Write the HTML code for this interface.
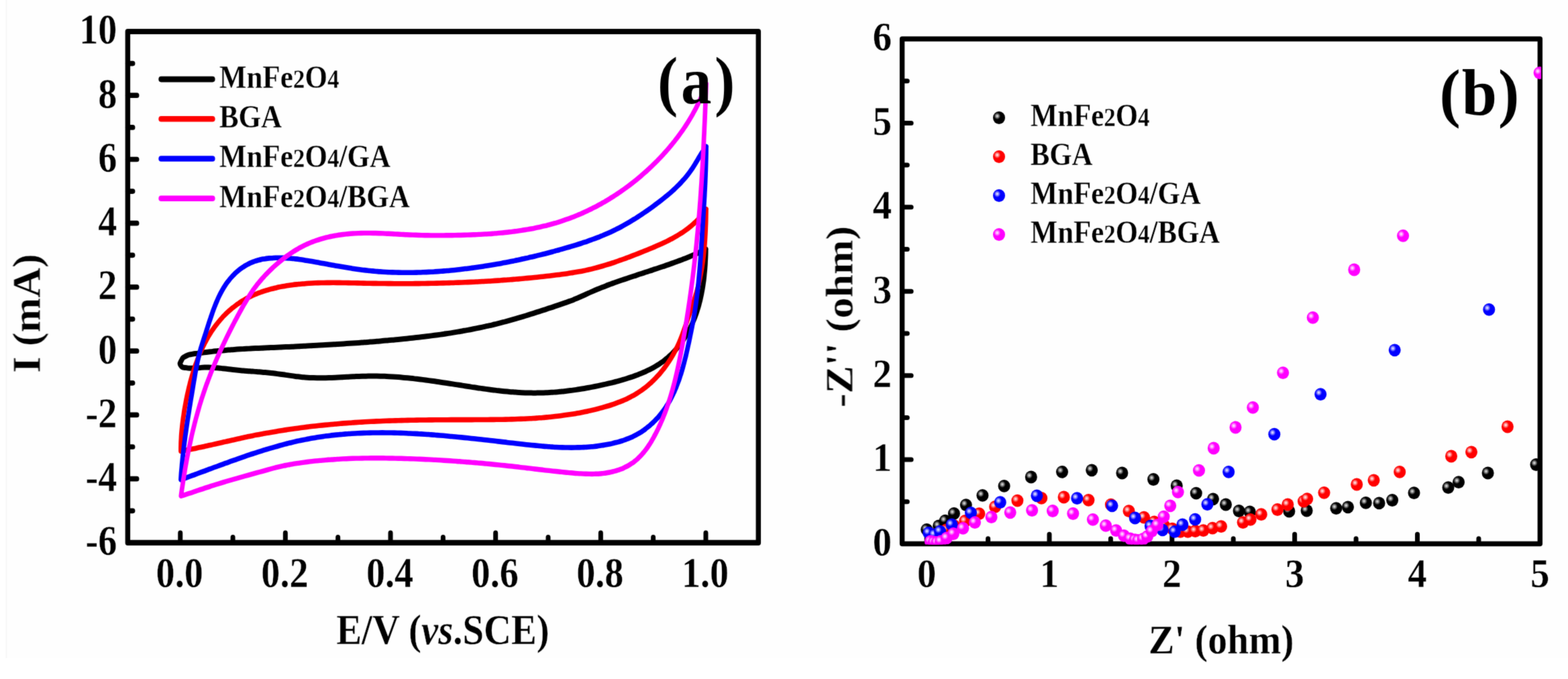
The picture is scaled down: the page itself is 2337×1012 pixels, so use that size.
<!DOCTYPE html>
<html lang="en"><head><meta charset="utf-8"><title>CV curves and Nyquist plots</title>
<style>
html,body{margin:0;padding:0;background:#fff;}
body{width:2337px;height:1012px;overflow:hidden;}
svg{display:block;}
.t{font-family:"Liberation Serif","Times New Roman",Times,serif;font-weight:bold;fill:#000;stroke:#fefefe;stroke-width:0.35px;}
.pl{stroke:none;}
.c{fill:none;stroke-linecap:round;stroke-linejoin:round;}
.ax{fill:none;stroke:#000;stroke-linejoin:round;}
.tk{stroke:#000;stroke-linecap:round;fill:none;}
</style></head>
<body>
<svg width="2337" height="1012" viewBox="0 0 2337 1012">
<defs>
<radialGradient id="gk" cx="0.35" cy="0.365" r="0.27" fx="0.35" fy="0.365"><stop offset="0" stop-color="#e8e8e8"/><stop offset="0.3" stop-color="#b0b0b0"/><stop offset="1.0" stop-color="#000000"/><stop offset="1" stop-color="#000000"/></radialGradient>
<radialGradient id="gr" cx="0.35" cy="0.365" r="0.27" fx="0.35" fy="0.365"><stop offset="0" stop-color="#fff0f0"/><stop offset="0.3" stop-color="#ffb8b8"/><stop offset="1.0" stop-color="#ff0000"/><stop offset="1" stop-color="#ff0000"/></radialGradient>
<radialGradient id="gb" cx="0.35" cy="0.365" r="0.27" fx="0.35" fy="0.365"><stop offset="0" stop-color="#f0f0ff"/><stop offset="0.3" stop-color="#b8b8ff"/><stop offset="1.0" stop-color="#0000ff"/><stop offset="1" stop-color="#0000ff"/></radialGradient>
<radialGradient id="gm" cx="0.35" cy="0.365" r="0.27" fx="0.35" fy="0.365"><stop offset="0" stop-color="#fff0ff"/><stop offset="0.3" stop-color="#ffb8ff"/><stop offset="1.0" stop-color="#ff00ff"/><stop offset="1" stop-color="#ff00ff"/></radialGradient>
<clipPath id="clipb"><rect x="1344.6" y="38" width="952.5" height="773.5"/></clipPath>
<filter id="soft" x="0" y="0" width="2337" height="1012" filterUnits="userSpaceOnUse" color-interpolation-filters="sRGB"><feConvolveMatrix order="3" kernelMatrix="0.02 0.1 0.02 0.1 0.52 0.1 0.02 0.1 0.02" edgeMode="duplicate" preserveAlpha="false"/></filter>
</defs>
<rect x="0" y="0" width="2337" height="1012" fill="#ffffff"/>
<rect x="9" y="0" width="2328" height="981" fill="#fefefe"/>
<rect x="8.5" y="0" width="2" height="981" fill="#f7f7f7"/>
<g filter="url(#soft)">
<g id="panel-a">
<g transform="scale(0.91 1)">
<rect class="ax" x="209.2" y="47" width="1032.9" height="761.9" stroke-width="8.2"/>
<path class="tk" stroke-width="7.7" d="M295.3 808.9V794.4M381.4 808.9V800.9M467.4 808.9V794.4M553.5 808.9V800.9M639.6 808.9V794.4M725.7 808.9V800.9M811.7 808.9V794.4M897.8 808.9V800.9M983.9 808.9V794.4M1069.9 808.9V800.9M1156 808.9V794.4M209.2 761.3H217.5M209.2 713.7H224.1M209.2 666H217.5M209.2 618.4H224.1M209.2 570.8H217.5M209.2 523.2H224.1M209.2 475.6H217.5M209.2 427.9H224.1M209.2 380.3H217.5M209.2 332.7H224.1M209.2 285.1H217.5M209.2 237.5H224.1M209.2 189.9H217.5M209.2 142.2H224.1M209.2 94.6H217.5"/>
<path class="c" stroke="#000000" stroke-width="8.0" d="M1156 371.4C1155.9 374.4 1156 374.4 1155.8 380.4C1155.5 386.4 1155.7 383.4 1155.3 389.5C1155 395.5 1155.2 392.5 1154.7 398.5C1154.2 404.6 1154.5 401.5 1153.8 407.6C1153.2 413.6 1153.6 410.6 1152.8 416.6C1151.9 422.6 1152.4 419.6 1151.4 425.6C1150.4 431.6 1150.9 428.6 1149.7 434.5C1148.5 440.5 1149.2 437.5 1147.7 443.4C1146.3 449.3 1147.1 446.4 1145.4 452.2C1143.7 458 1144.6 455.1 1142.6 460.9C1140.7 466.7 1141.7 463.8 1139.5 469.5C1137.2 475.2 1138.4 472.3 1135.9 477.9C1133.3 483.5 1134.7 480.8 1131.8 486.2C1128.9 491.7 1130.4 489 1127.2 494.3C1124 499.6 1125.7 497 1122.2 502.2C1118.7 507.3 1120.5 504.8 1116.7 509.7C1112.8 514.7 1114.8 512.3 1110.6 516.9C1106.5 521.6 1108.6 519.4 1104.1 523.8C1099.6 528.2 1102 526 1097.1 530.1C1092.3 534.2 1094.8 532.3 1089.6 536C1084.4 539.8 1087.1 538 1081.6 541.4C1076.1 544.8 1078.9 543.1 1073.2 546.2C1067.4 549.3 1070.3 547.8 1064.4 550.6C1058.4 553.3 1061.4 552 1055.3 554.5C1049.2 557 1052.2 555.8 1046 558C1039.8 560.2 1042.9 559.2 1036.6 561.2C1030.3 563.2 1033.5 562.2 1027.2 564C1020.9 565.9 1024 565 1017.7 566.6C1011.3 568.3 1014.5 567.5 1008.1 569C1001.8 570.5 1005 569.8 998.5 571.2C992.1 572.6 995.3 571.9 988.9 573.2C982.4 574.5 985.7 573.8 979.2 575.1C972.7 576.3 975.9 575.7 969.4 576.9C962.9 578 966.1 577.4 959.6 578.5C953 579.5 956.3 579.1 949.7 580C943.1 581 946.4 580.5 939.8 581.4C933.2 582.2 936.5 581.8 929.9 582.5C923.3 583.3 926.6 582.9 920 583.5C913.3 584.2 916.6 583.9 910 584.4C903.4 584.9 906.7 584.7 900 585C893.4 585.4 896.7 585.2 890.1 585.4C883.5 585.6 886.8 585.6 880.1 585.6C873.5 585.7 876.8 585.7 870.2 585.6C863.6 585.5 866.9 585.6 860.3 585.4C853.7 585.2 857 585.3 850.4 585C843.7 584.6 847 584.8 840.4 584.3C833.8 583.9 837.1 584.1 830.5 583.6C824 583 827.3 583.3 820.7 582.7C814.1 582 817.4 582.4 810.8 581.6C804.2 580.9 807.5 581.3 800.9 580.5C794.3 579.7 797.6 580.1 791 579.3C784.5 578.4 787.7 578.9 781.2 578C774.6 577.1 777.9 577.5 771.3 576.6C764.7 575.7 768 576.2 761.4 575.2C754.9 574.3 758.2 574.8 751.6 573.8C745 572.9 748.3 573.3 741.7 572.4C735.2 571.5 738.4 571.9 731.9 571C725.3 570.1 728.6 570.5 722 569.7C715.4 568.8 718.7 569.2 712.1 568.3C705.6 567.5 708.9 567.9 702.3 567.1C695.7 566.3 699 566.7 692.4 565.9C685.8 565.1 689.1 565.5 682.5 564.8C675.9 564.1 679.2 564.4 672.6 563.8C666.1 563.2 669.3 563.5 662.8 562.9C656.2 562.4 659.5 562.6 652.9 562.1C646.3 561.7 649.6 561.9 642.9 561.5C636.3 561.1 639.6 561.3 633 561C626.4 560.7 629.7 560.8 623.1 560.7C616.5 560.5 619.8 560.6 613.2 560.5C606.5 560.5 609.9 560.5 603.2 560.6C596.6 560.7 599.9 560.6 593.3 560.8C586.6 561 589.9 560.9 583.3 561.1C576.6 561.4 580 561.3 573.3 561.6C566.7 561.9 570 561.8 563.3 562.1C556.7 562.4 560 562.2 553.4 562.5C546.7 562.8 550 562.7 543.4 562.9C536.7 563.1 540.1 563.1 533.4 563.2C526.8 563.3 530.1 563.3 523.5 563.2C516.8 563.2 520.2 563.3 513.5 563.1C506.9 562.9 510.2 563.1 503.6 562.7C497 562.3 500.3 562.5 493.7 561.9C487.1 561.3 490.4 561.6 483.8 560.9C477.2 560.1 480.5 560.5 473.9 559.6C467.3 558.8 470.6 559.2 464 558.3C457.4 557.5 460.7 557.9 454.1 557.1C447.5 556.3 450.8 556.6 444.2 555.9C437.6 555.3 440.9 555.6 434.3 555C427.7 554.5 431 554.8 424.4 554.3C417.8 553.8 421.1 554 414.4 553.6C407.8 553.1 411.1 553.4 404.5 552.9C397.9 552.5 401.2 552.7 394.6 552.2C388 551.6 391.3 551.9 384.7 551.3C378.1 550.6 381.4 550.9 374.9 550.2C368.3 549.5 371.6 549.8 365 549.2C358.4 548.5 361.7 548.8 355.1 548.3C348.5 547.8 351.8 547.9 345.1 547.7C338.5 547.5 341.8 547.5 335.1 547.6C328.4 547.8 331.7 547.8 325 548.2C318.2 548.5 321.5 548.7 314.9 548.7C308.2 548.7 311.2 549.4 305.1 548.2C298.9 547.1 299.1 548.9 296.5 545.2C293.8 541.5 294.3 542 297.2 537.1C300 532.1 299.3 533.5 305.1 530.4C310.9 527.3 308.1 529.1 314.5 527.9C320.9 526.6 317.7 527.4 324.2 526.6C330.8 525.8 327.5 526.2 334.1 525.4C340.7 524.6 337.4 525 344 524.3C350.6 523.6 347.3 523.9 353.9 523.3C360.5 522.6 357.2 522.9 363.8 522.4C370.4 521.8 367.1 522.1 373.8 521.6C380.4 521.1 377.1 521.4 383.7 520.9C390.3 520.5 387 520.7 393.6 520.3C400.3 520 397 520.2 403.6 519.8C410.2 519.5 406.9 519.7 413.6 519.3C420.2 519 416.9 519.2 423.5 518.9C430.1 518.6 426.8 518.8 433.5 518.5C440.1 518.2 436.8 518.4 443.4 518.1C450.1 517.8 446.7 518 453.4 517.7C460 517.4 456.7 517.6 463.3 517.3C470 517 466.6 517.2 473.3 516.9C479.9 516.6 476.6 516.7 483.2 516.4C489.8 516.1 486.5 516.3 493.2 516C499.8 515.7 496.5 515.8 503.1 515.5C509.7 515.2 506.4 515.4 513 515.1C519.7 514.7 516.3 514.9 523 514.6C529.6 514.2 526.3 514.4 532.9 514.1C539.5 513.7 536.2 513.9 542.8 513.5C549.5 513.2 546.1 513.4 552.8 513C559.4 512.6 556.1 512.8 562.7 512.4C569.3 512 566 512.2 572.6 511.8C579.2 511.4 575.9 511.6 582.6 511.2C589.2 510.8 585.9 511 592.5 510.6C599.1 510.1 595.8 510.3 602.4 509.9C609 509.4 605.7 509.6 612.3 509.2C619 508.7 615.6 508.9 622.3 508.4C628.9 507.9 625.6 508.2 632.2 507.6C638.8 507.1 635.5 507.4 642.1 506.8C648.7 506.3 645.4 506.6 652 506C658.6 505.4 655.3 505.7 662 505.1C668.6 504.5 665.3 504.8 671.9 504.1C678.5 503.5 675.2 503.8 681.8 503.1C688.4 502.5 685.1 502.8 691.7 502.1C698.3 501.4 695 501.7 701.6 501C708.2 500.2 704.9 500.6 711.5 499.8C718.1 499 714.8 499.4 721.4 498.6C727.9 497.7 724.6 498.2 731.2 497.3C737.8 496.4 734.5 496.8 741.1 495.9C747.6 494.9 744.3 495.4 750.9 494.4C757.4 493.4 754.2 493.9 760.7 492.8C767.2 491.8 764 492.3 770.5 491.2C777 490 773.7 490.6 780.2 489.4C786.7 488.2 783.5 488.8 790 487.6C796.5 486.3 793.2 487 799.7 485.6C806.2 484.3 802.9 485 809.4 483.5C815.8 482.1 812.6 482.9 819 481.4C825.5 479.9 822.3 480.6 828.7 479.1C835.1 477.5 831.9 478.3 838.3 476.7C844.6 475 841.4 475.9 847.8 474.2C854.2 472.5 851 473.3 857.4 471.6C863.7 469.9 860.5 470.7 866.9 468.9C873.2 467.1 870.1 468.1 876.4 466.2C882.7 464.4 879.5 465.3 885.9 463.4C892.2 461.6 889 462.5 895.3 460.6C901.6 458.7 898.5 459.7 904.8 457.8C911.1 455.8 907.9 456.8 914.2 454.9C920.5 452.9 917.4 453.9 923.7 451.9C929.9 449.9 926.8 451 933 448.9C939.2 446.8 936.1 447.9 942.3 445.6C948.4 443.3 945.4 444.5 951.4 442C957.5 439.6 954.4 440.8 960.5 438.3C966.5 435.8 963.5 437 969.6 434.6C975.6 432.2 972.6 433.4 978.7 431C984.8 428.7 981.8 429.9 987.9 427.7C994.1 425.5 991 426.5 997.2 424.4C1003.4 422.3 1000.3 423.3 1006.6 421.3C1012.8 419.3 1009.7 420.3 1015.9 418.3C1022.2 416.3 1019.1 417.3 1025.4 415.4C1031.7 413.4 1028.5 414.4 1034.8 412.5C1041.1 410.6 1038 411.5 1044.3 409.7C1050.6 407.8 1047.4 408.7 1053.8 406.8C1060.1 405 1056.9 405.9 1063.2 404C1069.6 402.2 1066.4 403.1 1072.7 401.2C1079 399.3 1075.9 400.3 1082.2 398.3C1088.5 396.4 1085.3 397.4 1091.6 395.4C1097.9 393.4 1094.8 394.5 1101 392.4C1107.2 390.4 1104.1 391.4 1110.3 389.3C1116.6 387.2 1113.5 388.3 1119.6 386.1C1125.8 383.8 1122.7 385 1128.9 382.7C1135 380.3 1131.9 381.5 1138 379.1C1144.1 376.7 1141.1 377.9 1147.1 375.4C1153.1 372.8 1153.1 372.7 1156 371.4"/>
<path class="c" stroke="#ff0000" stroke-width="7.6" d="M1156.5 311.7C1156.4 314.7 1156.5 314.7 1156.3 320.8C1156.2 326.9 1156.3 323.8 1156.1 329.9C1155.9 336 1156 332.9 1155.7 339C1155.5 345.1 1155.6 342.1 1155.3 348.1C1154.9 354.2 1155.1 351.2 1154.7 357.3C1154.3 363.4 1154.5 360.3 1154 366.4C1153.4 372.5 1153.7 369.4 1153 375.5C1152.4 381.5 1152.7 378.5 1151.9 384.6C1151.1 390.6 1151.6 387.6 1150.6 393.6C1149.6 399.6 1150.2 396.6 1149 402.6C1147.9 408.6 1148.5 405.6 1147.2 411.5C1145.9 417.5 1146.6 414.5 1145.1 420.4C1143.6 426.3 1144.4 423.4 1142.7 429.3C1141 435.1 1141.9 432.2 1140 438C1138.1 443.9 1139.1 441 1137.1 446.7C1135.1 452.5 1136.1 449.6 1134 455.4C1131.9 461.2 1133 458.3 1130.8 464.1C1128.7 469.8 1129.7 466.9 1127.5 472.7C1125.4 478.4 1126.5 475.6 1124.3 481.3C1122.1 487 1123.2 484.2 1121 489.9C1118.8 495.6 1120 492.8 1117.6 498.4C1115.3 504.1 1116.5 501.3 1114 506.9C1111.4 512.5 1112.8 509.7 1110 515.3C1107.1 520.8 1108.6 518 1105.5 523.4C1102.4 528.8 1104 526.2 1100.6 531.4C1097.2 536.7 1098.9 534.1 1095.2 539.2C1091.5 544.3 1093.4 541.8 1089.5 546.7C1085.5 551.6 1087.5 549.2 1083.3 553.9C1079 558.6 1081.2 556.3 1076.7 560.8C1072.2 565.2 1074.5 563.1 1069.7 567.3C1064.9 571.5 1067.4 569.5 1062.3 573.4C1057.3 577.4 1059.9 575.5 1054.6 579.1C1049.3 582.8 1052 581 1046.5 584.3C1040.9 587.7 1043.8 586.1 1038 589.1C1032.2 592.1 1035.2 590.6 1029.2 593.3C1023.2 596 1026.2 594.7 1020.1 597.1C1013.9 599.5 1017 598.3 1010.7 600.4C1004.5 602.6 1007.6 601.5 1001.2 603.5C994.9 605.4 998.1 604.4 991.6 606.2C985.2 607.9 988.4 607.1 981.9 608.6C975.4 610.2 978.7 609.5 972.2 610.9C965.6 612.3 968.9 611.6 962.3 612.9C955.8 614.2 959.1 613.6 952.5 614.7C945.9 615.9 949.2 615.3 942.6 616.4C936 617.4 939.3 616.9 932.7 617.8C926.1 618.7 929.4 618.3 922.8 619.1C916.2 619.9 919.5 619.5 912.9 620.3C906.3 621 909.6 620.6 902.9 621.2C896.3 621.9 899.6 621.6 893 622.1C886.3 622.6 889.7 622.4 883 622.8C876.4 623.3 879.7 623.1 873 623.5C866.4 623.8 869.7 623.7 863 624C856.4 624.3 859.7 624.1 853.1 624.4C846.4 624.6 849.7 624.5 843 624.7C836.4 624.9 839.7 624.8 833 625C826.4 625.1 829.7 625.1 823 625.2C816.3 625.3 819.7 625.2 813 625.3C806.3 625.4 809.7 625.4 803 625.4C796.3 625.5 799.6 625.5 793 625.5C786.3 625.5 789.6 625.5 782.9 625.5C776.2 625.6 779.6 625.5 772.9 625.6C766.2 625.6 769.6 625.6 762.9 625.6C756.2 625.6 759.5 625.6 752.8 625.6C746.2 625.6 749.5 625.6 742.8 625.6C736.1 625.7 739.5 625.7 732.8 625.7C726.1 625.7 729.4 625.7 722.8 625.7C716.1 625.8 719.4 625.8 712.7 625.8C706.1 625.9 709.4 625.8 702.7 625.9C696 626 699.4 625.9 692.7 626C686 626.1 689.3 626 682.7 626.1C676 626.2 679.3 626.2 672.7 626.3C666 626.4 669.3 626.4 662.6 626.5C656 626.6 659.3 626.6 652.6 626.7C645.9 626.9 649.3 626.8 642.6 627C635.9 627.2 639.3 627.1 632.6 627.3C625.9 627.5 629.3 627.4 622.6 627.7C615.9 627.9 619.2 627.8 612.6 628.1C605.9 628.4 609.2 628.2 602.6 628.5C595.9 628.9 599.2 628.7 592.6 629.1C585.9 629.4 589.2 629.2 582.6 629.6C575.9 630 579.2 629.8 572.6 630.3C565.9 630.7 569.2 630.5 562.6 630.9C555.9 631.4 559.2 631.2 552.6 631.7C545.9 632.2 549.3 631.9 542.6 632.5C535.9 633.1 539.3 632.8 532.6 633.4C526 634 529.3 633.7 522.7 634.3C516 635 519.3 634.7 512.7 635.3C506.1 636 509.4 635.7 502.7 636.4C496.1 637.2 499.4 636.8 492.8 637.6C486.2 638.4 489.5 638 482.9 638.8C476.3 639.6 479.6 639.2 473 640.1C466.3 641 469.6 640.5 463 641.5C456.4 642.4 459.7 641.9 453.1 642.9C446.6 643.9 449.9 643.4 443.3 644.4C436.7 645.5 440 644.9 433.4 646C426.8 647.1 430.1 646.5 423.6 647.7C417 648.8 420.3 648.2 413.7 649.4C407.2 650.6 410.4 650 403.9 651.3C397.4 652.5 400.6 651.9 394.1 653.2C387.6 654.5 390.8 653.8 384.3 655.2C377.8 656.5 381.1 655.8 374.5 657.2C368 658.5 371.3 657.8 364.8 659.2C358.3 660.5 361.5 659.9 355 661.2C348.5 662.6 351.7 661.9 345.2 663.2C338.7 664.6 342 663.9 335.4 665.2C328.9 666.5 332.2 665.9 325.6 667.1C319.1 668.4 322.4 667.8 315.8 669C309.3 670.2 312.6 669.6 306 670.7C299.4 671.9 299.4 671.8 296.2 672.4C296.2 669.4 296.1 669.4 296.3 663.3C296.4 657.3 296.3 660.3 296.7 654.2C297 648.2 296.8 651.2 297.3 645.1C297.9 639.1 297.6 642.1 298.3 636.1C299 630 298.6 633.1 299.5 627C300.3 621 299.9 624 300.9 618C301.8 612 301.3 615 302.4 609C303.6 603 303 606 304.2 600C305.4 594.1 304.8 597 306.1 591.1C307.5 585.2 306.8 588.1 308.3 582.2C309.7 576.3 309 579.2 310.6 573.4C312.2 567.5 311.3 570.4 313.1 564.6C314.9 558.8 313.9 561.7 315.9 555.9C317.8 550.1 316.8 553 318.9 547.2C321.1 541.5 319.9 544.4 322.3 538.7C324.6 533 323.4 535.8 325.9 530.2C328.5 524.6 327.1 527.4 329.9 521.9C332.7 516.3 331.2 519.1 334.2 513.6C337.2 508.2 335.6 510.9 338.9 505.6C342.1 500.2 340.4 502.9 343.9 497.7C347.4 492.5 345.6 495 349.4 490.1C353.2 485.1 351.2 487.5 355.4 482.7C359.5 477.9 357.3 480.3 361.8 475.7C366.2 471.1 363.9 473.3 368.6 469C373.4 464.7 370.9 466.8 375.9 462.8C381 458.8 378.4 460.7 383.7 457C388.9 453.3 386.2 455 391.7 451.7C397.2 448.3 394.4 449.9 400.2 446.8C405.9 443.8 403 445.2 408.9 442.6C414.8 439.9 411.8 441.1 417.9 438.8C424 436.4 420.9 437.5 427.2 435.5C433.4 433.4 430.3 434.4 436.7 432.6C443 430.9 439.8 431.7 446.3 430.2C452.8 428.7 449.5 429.4 456.1 428.1C462.7 426.9 459.4 427.5 466 426.4C472.6 425.4 469.3 425.9 475.9 425C482.6 424.2 479.3 424.5 485.9 423.9C492.6 423.2 489.2 423.5 495.9 423C502.6 422.5 499.2 422.7 505.9 422.3C512.6 421.9 509.2 422.1 515.9 421.8C522.5 421.6 519.2 421.7 525.9 421.5C532.5 421.4 529.2 421.4 535.9 421.4C542.5 421.3 539.2 421.3 545.9 421.3C552.5 421.3 549.2 421.3 555.9 421.4C562.5 421.5 559.2 421.4 565.9 421.5C572.5 421.6 569.2 421.6 575.8 421.7C582.5 421.8 579.2 421.8 585.8 421.9C592.5 422 589.2 422 595.8 422.1C602.5 422.2 599.2 422.2 605.8 422.3C612.5 422.4 609.2 422.3 615.8 422.4C622.5 422.5 619.2 422.5 625.8 422.5C632.5 422.6 629.2 422.6 635.8 422.6C642.5 422.7 639.2 422.7 645.8 422.7C652.5 422.7 649.2 422.7 655.8 422.7C662.5 422.7 659.2 422.7 665.8 422.7C672.5 422.7 669.2 422.7 675.8 422.7C682.5 422.6 679.2 422.6 685.8 422.6C692.5 422.5 689.2 422.6 695.8 422.5C702.5 422.4 699.2 422.4 705.8 422.3C712.5 422.2 709.2 422.3 715.8 422.1C722.5 422 719.2 422.1 725.8 421.9C732.5 421.7 729.2 421.8 735.8 421.6C742.5 421.5 739.2 421.6 745.8 421.3C752.5 421.1 749.2 421.2 755.8 421C762.5 420.8 759.2 420.9 765.8 420.6C772.5 420.4 769.1 420.5 775.8 420.2C782.5 419.9 779.1 420.1 785.8 419.7C792.5 419.4 789.1 419.6 795.8 419.2C802.4 418.9 799.1 419 805.8 418.7C812.4 418.3 809.1 418.5 815.8 418.1C822.4 417.6 819.1 417.9 825.7 417.4C832.4 417 829.1 417.2 835.7 416.7C842.4 416.2 839.1 416.5 845.7 416C852.4 415.5 849 415.7 855.7 415.2C862.3 414.7 859 414.9 865.7 414.4C872.3 413.8 869 414.1 875.6 413.5C882.3 412.9 878.9 413.2 885.6 412.5C892.2 411.9 888.9 412.2 895.6 411.5C902.2 410.9 898.9 411.2 905.5 410.5C912.2 409.8 908.8 410.2 915.5 409.4C922.1 408.6 918.8 409 925.4 408.2C932 407.3 928.7 407.8 935.3 406.8C941.9 405.9 938.6 406.4 945.2 405.3C951.7 404.3 948.4 404.8 955 403.7C961.5 402.5 958.2 403.1 964.7 401.8C971.2 400.4 967.9 401.1 974.4 399.6C980.8 398.2 977.6 398.9 983.9 397.3C990.3 395.6 987.1 396.5 993.5 394.7C999.8 392.9 996.6 393.9 1002.9 392C1009.3 390.1 1006.1 391 1012.4 389C1018.7 387 1015.5 388.1 1021.8 386C1028.1 383.9 1024.9 384.9 1031.2 382.8C1037.4 380.6 1034.3 381.7 1040.6 379.5C1046.8 377.3 1043.7 378.4 1050 376.2C1056.2 373.9 1053.1 375 1059.4 372.7C1065.6 370.4 1062.5 371.6 1068.7 369.2C1075 366.8 1071.9 368.1 1078 365.6C1084.2 363.1 1081.2 364.4 1087.2 361.8C1093.3 359.2 1090.3 360.5 1096.3 357.7C1102.2 355 1099.3 356.4 1105.1 353.4C1110.8 350.4 1108 352 1113.6 348.8C1119.2 345.6 1116.5 347.3 1121.8 343.8C1127.2 340.3 1124.6 342.2 1129.7 338.4C1134.8 334.6 1132.3 336.6 1137.1 332.5C1141.9 328.4 1139.6 330.6 1144.1 326.2C1148.6 321.7 1146.5 324 1150.6 319.2C1154.7 314.4 1154.5 314.2 1156.5 311.7"/>
<path class="c" stroke="#0000ff" stroke-width="7.6" d="M1156.6 218.6C1156.6 221.6 1156.6 221.7 1156.5 227.7C1156.4 233.8 1156.4 230.8 1156.3 236.9C1156.1 243 1156.2 239.9 1156 246C1155.8 252.1 1155.9 249 1155.7 255.1C1155.4 261.2 1155.6 258.2 1155.3 264.2C1155 270.3 1155.2 267.3 1154.9 273.3C1154.6 279.4 1154.7 276.4 1154.4 282.5C1154 288.5 1154.2 285.5 1153.9 291.6C1153.5 297.6 1153.7 294.6 1153.3 300.7C1152.9 306.7 1153.1 303.7 1152.7 309.8C1152.3 315.8 1152.5 312.8 1152.1 318.9C1151.7 324.9 1151.9 321.9 1151.5 328C1151.1 334.1 1151.3 331 1150.9 337.1C1150.4 343.2 1150.6 340.1 1150.2 346.2C1149.8 352.3 1150 349.3 1149.6 355.4C1149.2 361.5 1149.4 358.4 1148.9 364.5C1148.5 370.6 1148.7 367.6 1148.3 373.6C1147.8 379.7 1148 376.7 1147.6 382.8C1147.1 388.9 1147.3 385.8 1146.8 391.9C1146.3 398 1146.6 395 1146 401C1145.4 407.1 1145.7 404.1 1145.1 410.1C1144.5 416.2 1144.8 413.2 1144.2 419.2C1143.5 425.3 1143.9 422.3 1143.1 428.3C1142.4 434.3 1142.8 431.3 1142 437.3C1141.2 443.4 1141.6 440.4 1140.7 446.4C1139.9 452.3 1140.3 449.4 1139.4 455.3C1138.4 461.3 1138.9 458.3 1137.9 464.3C1136.8 470.2 1137.4 467.3 1136.2 473.2C1135.1 479.1 1135.7 476.2 1134.5 482.1C1133.3 488 1133.9 485.1 1132.6 491C1131.3 496.9 1132 494 1130.6 499.9C1129.3 505.9 1130 502.9 1128.6 508.9C1127.2 514.8 1127.9 511.8 1126.4 517.8C1125 523.8 1125.7 520.8 1124.2 526.8C1122.7 532.8 1123.5 529.9 1121.8 535.8C1120.2 541.8 1121 538.8 1119.2 544.8C1117.5 550.7 1118.4 547.8 1116.5 553.7C1114.5 559.6 1115.5 556.7 1113.4 562.5C1111.3 568.3 1112.4 565.4 1110 571.1C1107.7 576.8 1108.9 574 1106.3 579.6C1103.7 585.2 1105.1 582.4 1102.2 587.9C1099.3 593.3 1100.8 590.7 1097.7 596C1094.5 601.2 1096.2 598.7 1092.6 603.8C1089.1 608.9 1091 606.4 1087.1 611.3C1083.2 616.2 1085.3 613.8 1081 618.5C1076.8 623.1 1079 620.9 1074.4 625.3C1069.8 629.7 1072.2 627.6 1067.3 631.7C1062.3 635.7 1064.9 633.8 1059.6 637.5C1054.4 641.3 1057.1 639.5 1051.6 642.9C1046 646.2 1048.9 644.7 1043 647.6C1037.2 650.5 1040.2 649.2 1034.1 651.7C1028 654.2 1031.1 653 1024.8 655.1C1018.6 657.2 1021.7 656.2 1015.3 658C1008.9 659.7 1012.1 658.9 1005.6 660.3C999 661.8 1002.3 661.1 995.7 662.3C989.1 663.4 992.4 662.9 985.8 663.8C979.2 664.8 982.5 664.4 975.9 665.1C969.2 665.8 972.5 665.5 965.9 666C959.2 666.5 962.6 666.3 955.9 666.6C949.3 666.9 952.6 666.8 945.9 666.9C939.3 667.1 942.6 667.1 935.9 667.1C929.2 667.1 932.6 667.1 925.9 667C919.2 666.8 922.6 666.9 915.9 666.7C909.2 666.4 912.5 666.5 905.9 666.2C899.2 665.8 902.5 666 895.8 665.5C889.1 665.1 892.5 665.3 885.8 664.8C879.1 664.3 882.4 664.5 875.7 663.9C869.1 663.3 872.4 663.6 865.7 663C859 662.4 862.4 662.7 855.7 662C849 661.3 852.4 661.7 845.7 661C839 660.3 842.3 660.6 835.7 660C829 659.3 832.3 659.6 825.7 658.9C819 658.2 822.3 658.6 815.7 657.9C809 657.2 812.4 657.5 805.7 656.8C799.1 656.1 802.4 656.5 795.7 655.8C789.1 655.1 792.4 655.5 785.8 654.8C779.1 654.1 782.4 654.5 775.8 653.8C769.2 653.2 772.5 653.5 765.8 652.8C759.2 652.2 762.5 652.5 755.9 651.9C749.2 651.3 752.6 651.6 745.9 651C739.3 650.4 742.6 650.7 736 650.2C729.3 649.6 732.6 649.9 726 649.3C719.3 648.8 722.7 649.1 716 648.6C709.4 648.1 712.7 648.3 706.1 647.9C699.4 647.4 702.7 647.6 696.1 647.2C689.4 646.8 692.7 647 686.1 646.7C679.4 646.3 682.8 646.5 676.1 646.2C669.4 645.9 672.8 646 666.1 645.7C659.4 645.5 662.8 645.6 656.1 645.4C649.4 645.2 652.7 645.3 646.1 645.1C639.4 645 642.7 645.1 636 645C629.3 644.9 632.7 644.9 626 644.9C619.3 644.9 622.6 644.9 615.9 645C609.2 645 612.6 645 605.9 645.1C599.2 645.2 602.5 645.2 595.8 645.4C589.1 645.6 592.5 645.5 585.8 645.8C579.1 646.1 582.4 645.9 575.7 646.3C569.1 646.7 572.4 646.4 565.7 646.9C559 647.4 562.4 647.1 555.7 647.7C549 648.3 552.4 648 545.7 648.6C539.1 649.3 542.4 649 535.8 649.7C529.1 650.5 532.4 650.1 525.8 651C519.2 651.9 522.5 651.4 515.9 652.4C509.3 653.4 512.6 652.8 506 654C499.5 655.1 502.7 654.5 496.2 655.7C489.7 656.9 492.9 656.3 486.4 657.6C479.9 659 483.1 658.3 476.7 659.7C470.2 661.1 473.4 660.4 466.9 661.9C460.5 663.5 463.7 662.7 457.3 664.3C450.8 665.9 454 665.1 447.6 666.8C441.2 668.5 444.4 667.6 438 669.4C431.6 671.1 434.8 670.2 428.4 672.1C422 673.9 425.2 673 418.9 674.8C412.5 676.7 415.7 675.8 409.3 677.7C403 679.6 406.2 678.6 399.9 680.6C393.5 682.6 396.7 681.6 390.4 683.6C384.1 685.6 387.2 684.6 380.9 686.7C374.6 688.7 377.8 687.7 371.5 689.8C365.2 691.8 368.3 690.8 362 692.9C355.8 695 358.9 693.9 352.6 696C346.4 698.1 349.5 697.1 343.2 699.2C336.9 701.3 340.1 700.2 333.8 702.4C327.5 704.5 330.7 703.4 324.4 705.5C318.1 707.6 321.3 706.6 315 708.7C308.7 710.8 311.9 709.7 305.6 711.8C299.3 713.9 299.3 713.9 296.2 714.9C296.4 711.9 296.3 711.9 296.8 705.8C297.3 699.8 297.1 702.8 297.7 696.7C298.2 690.7 297.9 693.7 298.6 687.7C299.2 681.6 298.9 684.7 299.6 678.6C300.3 672.6 300 675.6 300.7 669.6C301.5 663.6 301.1 666.6 301.9 660.6C302.8 654.6 302.4 657.6 303.2 651.6C304.1 645.6 303.7 648.6 304.6 642.6C305.5 636.6 305.1 639.6 306 633.6C307 627.6 306.5 630.6 307.5 624.6C308.5 618.6 308 621.6 309.1 615.6C310.1 609.6 309.6 612.6 310.6 606.6C311.7 600.6 311.2 603.6 312.2 597.6C313.3 591.6 312.8 594.6 313.9 588.6C314.9 582.7 314.4 585.7 315.5 579.7C316.6 573.7 316 576.7 317.1 570.7C318.2 564.7 317.7 567.7 318.8 561.7C319.9 555.7 319.3 558.7 320.5 552.7C321.8 546.8 321.1 549.7 322.4 543.8C323.8 537.9 323 540.8 324.5 534.9C326 529 325.2 532 326.9 526.1C328.5 520.3 327.7 523.2 329.5 517.4C331.4 511.6 330.5 514.5 332.5 508.7C334.5 502.9 333.5 505.8 335.6 500.1C337.6 494.3 336.6 497.2 338.7 491.4C340.7 485.6 339.7 488.5 341.7 482.7C343.8 476.9 342.7 479.8 344.9 474.1C347 468.3 345.9 471.2 348.1 465.5C350.4 459.8 349.2 462.6 351.6 456.9C354 451.3 352.7 454.1 355.4 448.5C358 443 356.6 445.7 359.5 440.3C362.5 434.9 360.9 437.5 364.2 432.2C367.5 427 365.7 429.5 369.4 424.5C373.2 419.5 371.2 421.9 375.4 417.2C379.6 412.4 377.4 414.7 382.1 410.3C386.7 405.9 384.3 408 389.4 404.1C394.5 400.2 391.9 401.9 397.4 398.6C402.9 395.2 400 396.7 405.9 393.9C411.8 391.1 408.8 392.3 414.9 390.2C421.1 388.1 418 389 424.4 387.5C430.9 386 427.6 386.6 434.2 385.7C440.8 384.7 437.6 385.1 444.2 384.7C450.9 384.2 447.6 384.3 454.3 384.3C461 384.2 457.7 384.2 464.3 384.4C471 384.6 467.6 384.5 474.2 385C480.9 385.5 477.6 385.2 484.1 385.9C490.7 386.6 487.4 386.3 494 387.1C500.6 388 497.3 387.6 503.8 388.6C510.4 389.5 507.1 389 513.7 390.1C520.2 391.1 517 390.6 523.5 391.7C530.1 392.8 526.8 392.2 533.4 393.3C540 394.4 536.7 393.9 543.2 395C549.8 396 546.5 395.5 553.1 396.6C559.7 397.6 556.4 397.1 563 398.1C569.6 399.1 566.3 398.6 572.9 399.6C579.5 400.5 576.2 400.1 582.8 400.9C589.4 401.8 586.1 401.4 592.7 402.2C599.4 402.9 596.1 402.6 602.7 403.2C609.3 403.9 606 403.6 612.6 404.1C619.3 404.7 615.9 404.4 622.6 404.9C629.2 405.3 625.9 405.1 632.5 405.5C639.2 405.8 635.8 405.6 642.5 405.9C649.1 406.1 645.8 406 652.5 406.1C659.1 406.3 655.8 406.2 662.4 406.3C669.1 406.3 665.7 406.3 672.4 406.3C679 406.2 675.7 406.3 682.4 406.1C689 406 685.7 406.1 692.3 405.8C699 405.6 695.7 405.7 702.3 405.4C709 405.1 705.6 405.3 712.3 404.9C718.9 404.5 715.6 404.7 722.2 404.3C728.9 403.8 725.6 404 732.2 403.5C738.8 403 735.5 403.3 742.2 402.7C748.8 402 745.5 402.4 752.1 401.7C758.7 401 755.4 401.4 762 400.6C768.6 399.9 765.3 400.3 771.9 399.5C778.6 398.7 775.3 399.1 781.9 398.2C788.5 397.4 785.2 397.8 791.8 396.9C798.3 396 795.1 396.5 801.6 395.5C808.2 394.5 804.9 395 811.5 394C818.1 392.9 814.8 393.5 821.4 392.4C827.9 391.3 824.6 391.8 831.2 390.7C837.7 389.5 834.5 390.1 841 388.9C847.5 387.7 844.3 388.3 850.8 387C857.3 385.8 854.1 386.4 860.6 385.1C867.1 383.8 863.8 384.4 870.3 383.1C876.8 381.7 873.6 382.4 880.1 380.9C886.5 379.5 883.3 380.2 889.8 378.8C896.2 377.3 893 378 899.5 376.5C905.9 375 902.7 375.7 909.1 374.1C915.5 372.6 912.3 373.4 918.7 371.7C925.2 370.1 922 370.9 928.3 369.2C934.7 367.5 931.6 368.4 937.9 366.7C944.3 364.9 941.1 365.8 947.4 364C953.8 362.2 950.6 363.1 956.9 361.2C963.2 359.3 960.1 360.2 966.3 358.2C972.6 356.2 969.5 357.2 975.7 355.1C981.9 353 978.8 354.1 984.9 351.8C991.1 349.5 988 350.7 994.1 348.3C1000.2 345.8 997.2 347.1 1003.2 344.5C1009.2 341.9 1006.2 343.2 1012.1 340.5C1018.1 337.7 1015.1 339.1 1021 336.2C1026.8 333.2 1023.9 334.7 1029.7 331.7C1035.5 328.6 1032.6 330.2 1038.3 326.9C1044 323.7 1041.2 325.4 1046.8 322C1052.4 318.7 1049.6 320.4 1055.2 316.9C1060.7 313.5 1058 315.2 1063.4 311.7C1068.9 308.2 1066.2 309.9 1071.5 306.3C1076.9 302.7 1074.3 304.5 1079.6 300.8C1084.8 297.1 1082.2 299 1087.4 295.2C1092.6 291.4 1090.1 293.4 1095.1 289.5C1100.1 285.6 1097.7 287.6 1102.6 283.5C1107.4 279.5 1105.1 281.5 1109.7 277.3C1114.4 273.1 1112.2 275.3 1116.6 270.8C1121.1 266.4 1118.9 268.7 1123.2 264.1C1127.4 259.4 1125.3 261.8 1129.3 256.9C1133.2 252.1 1131.3 254.5 1135 249.4C1138.7 244.3 1136.8 246.9 1140.3 241.6C1143.8 236.4 1142 238.9 1145.5 233.7C1149 228.5 1147.2 231 1150.9 225.9C1154.5 220.9 1154.7 221 1156.6 218.6"/>
<path class="c" stroke="#ff00ff" stroke-width="7.4" d="M1156.7 125C1156.6 128 1156.6 128 1156.3 134.1C1156.1 140.1 1156.2 137.1 1155.9 143.1C1155.7 149.2 1155.8 146.1 1155.5 152.2C1155.3 158.2 1155.4 155.2 1155.1 161.3C1154.8 167.3 1155 164.3 1154.7 170.3C1154.4 176.4 1154.6 173.3 1154.3 179.4C1154 185.4 1154.1 182.4 1153.8 188.5C1153.5 194.5 1153.7 191.5 1153.4 197.5C1153.1 203.6 1153.2 200.5 1152.9 206.6C1152.6 212.6 1152.8 209.6 1152.4 215.7C1152.1 221.7 1152.3 218.7 1151.9 224.7C1151.6 230.8 1151.8 227.7 1151.4 233.8C1151.1 239.8 1151.2 236.8 1150.9 242.8C1150.5 248.9 1150.7 245.9 1150.3 251.9C1149.9 257.9 1150.1 254.9 1149.7 261C1149.3 267 1149.5 264 1149.1 270C1148.7 276.1 1148.9 273 1148.4 279.1C1148 285.1 1148.2 282.1 1147.8 288.1C1147.3 294.2 1147.5 291.2 1147.1 297.2C1146.6 303.2 1146.8 300.2 1146.3 306.2C1145.8 312.3 1146.1 309.3 1145.5 315.3C1145 321.3 1145.3 318.3 1144.7 324.3C1144.2 330.3 1144.5 327.3 1143.9 333.4C1143.3 339.4 1143.6 336.4 1143 342.4C1142.4 348.4 1142.7 345.4 1142 351.4C1141.4 357.4 1141.7 354.4 1141.1 360.5C1140.4 366.5 1140.8 363.5 1140.1 369.5C1139.4 375.5 1139.7 372.5 1139 378.5C1138.3 384.5 1138.7 381.5 1137.9 387.5C1137.2 393.5 1137.5 390.5 1136.8 396.5C1136 402.5 1136.4 399.5 1135.6 405.5C1134.8 411.5 1135.2 408.5 1134.4 414.5C1133.5 420.5 1134 417.5 1133.1 423.5C1132.2 429.5 1132.7 426.5 1131.8 432.5C1130.9 438.5 1131.3 435.5 1130.4 441.5C1129.5 447.5 1130 444.5 1129 450.5C1128 456.5 1128.5 453.5 1127.5 459.5C1126.6 465.4 1127.1 462.5 1126 468.4C1125 474.4 1125.5 471.4 1124.5 477.4C1123.4 483.4 1124 480.4 1122.9 486.4C1121.8 492.3 1122.4 489.3 1121.2 495.3C1120.1 501.3 1120.7 498.3 1119.5 504.3C1118.4 510.2 1119 507.2 1117.8 513.2C1116.6 519.2 1117.2 516.2 1116 522.1C1114.8 528.1 1115.4 525.1 1114.1 531.1C1112.8 537 1113.5 534 1112.1 540C1110.8 545.9 1111.5 542.9 1110.1 548.8C1108.7 554.7 1109.4 551.8 1107.9 557.7C1106.4 563.6 1107.2 560.6 1105.6 566.5C1104 572.4 1104.8 569.4 1103.1 575.3C1101.4 581.1 1102.3 578.2 1100.4 584C1098.6 589.8 1099.6 586.9 1097.6 592.7C1095.6 598.4 1096.6 595.5 1094.5 601.3C1092.4 607 1093.5 604.1 1091.3 609.8C1089 615.5 1090.2 612.7 1087.8 618.3C1085.3 623.9 1086.6 621.1 1084 626.7C1081.4 632.2 1082.7 629.5 1079.9 635C1077.1 640.5 1078.6 637.7 1075.6 643.2C1072.6 648.6 1074.1 645.9 1070.9 651.3C1067.7 656.6 1069.4 654 1065.9 659.2C1062.3 664.4 1064.2 661.9 1060.4 666.9C1056.5 671.8 1058.6 669.5 1054.3 674.1C1050.1 678.7 1052.4 676.5 1047.7 680.8C1043.1 685 1045.6 683 1040.5 686.8C1035.4 690.6 1038 688.8 1032.4 692C1026.9 695.2 1029.7 693.8 1023.7 696.4C1017.7 699.1 1020.7 697.9 1014.4 700C1008.1 702 1011.3 701.1 1004.8 702.6C998.4 704.2 1001.6 703.5 995.1 704.5C988.6 705.6 991.8 705.1 985.3 705.7C978.7 706.3 982 706.1 975.3 706.3C968.7 706.6 972 706.5 965.4 706.4C958.7 706.4 962.1 706.4 955.4 706.1C948.7 705.8 952 706 945.4 705.6C938.7 705.1 942 705.3 935.4 704.8C928.7 704.3 932 704.5 925.4 704C918.8 703.4 922.1 703.7 915.4 703C908.8 702.4 912.1 702.7 905.5 702.1C898.9 701.4 902.2 701.7 895.6 701.1C889 700.4 892.3 700.7 885.7 700C879.1 699.3 882.4 699.7 875.8 699C869.2 698.3 872.5 698.6 866 697.9C859.4 697.2 862.7 697.5 856.1 696.9C849.5 696.2 852.8 696.5 846.2 695.8C839.6 695.1 842.9 695.5 836.3 694.8C829.7 694.2 833 694.5 826.4 693.8C819.8 693.2 823.1 693.5 816.5 692.9C809.9 692.3 813.2 692.6 806.6 692C800 691.4 803.3 691.7 796.6 691.1C790 690.6 793.3 690.9 786.7 690.3C780.1 689.8 783.4 690 776.8 689.5C770.2 689 773.5 689.3 766.8 688.8C760.2 688.3 763.5 688.5 756.9 688.1C750.3 687.6 753.6 687.8 746.9 687.4C740.3 687 743.6 687.2 737 686.8C730.4 686.4 733.7 686.6 727 686.2C720.4 685.8 723.7 686 717.1 685.6C710.4 685.3 713.7 685.5 707.1 685.1C700.5 684.8 703.8 685 697.1 684.7C690.5 684.4 693.8 684.5 687.2 684.3C680.5 684 683.8 684.1 677.2 683.9C670.5 683.7 673.9 683.8 667.2 683.6C660.6 683.4 663.9 683.5 657.2 683.3C650.6 683.2 653.9 683.2 647.3 683.1C640.6 683 643.9 683 637.3 683C630.6 682.9 634 682.9 627.3 682.8C620.7 682.8 624 682.8 617.3 682.8C610.7 682.8 614 682.8 607.4 682.8C600.7 682.9 604.1 682.8 597.4 682.9C590.8 683 594.1 682.9 587.4 683.1C580.8 683.2 584.1 683.1 577.5 683.3C570.8 683.5 574.2 683.4 567.5 683.7C560.9 683.9 564.2 683.8 557.6 684.1C550.9 684.4 554.3 684.3 547.6 684.7C541 685.1 544.3 684.8 537.7 685.3C531.1 685.8 534.4 685.5 527.8 686.1C521.1 686.6 524.5 686.3 517.8 686.9C511.2 687.6 514.5 687.2 507.9 687.9C501.3 688.7 504.6 688.3 498 689.1C491.4 689.9 494.7 689.4 488.2 690.4C481.6 691.3 484.9 690.8 478.3 691.8C471.8 692.9 475 692.3 468.5 693.5C462 694.7 465.2 694 458.8 695.4C452.3 696.7 455.6 696 449.1 697.5C442.7 699 445.9 698.3 439.5 699.9C433.2 701.5 436.4 700.7 430 702.3C423.6 703.9 426.8 703.1 420.4 704.7C414 706.3 417.2 705.5 410.8 707.1C404.4 708.7 407.6 707.9 401.2 709.5C394.8 711.1 398 710.3 391.6 712C385.2 713.6 388.4 712.8 382 714.5C375.6 716.2 378.8 715.3 372.4 717C366 718.7 369.2 717.9 362.9 719.6C356.5 721.4 359.7 720.5 353.3 722.3C347 724.1 350.2 723.2 343.8 725.1C337.5 726.9 340.7 726 334.4 727.9C328 729.8 331.2 728.9 324.9 730.8C318.6 732.7 321.8 731.8 315.5 733.7C309.1 735.6 312.3 734.7 306 736.5C299.7 738.4 299.7 738.4 296.5 739.3C296.9 736.3 296.9 736.3 297.8 730.4C298.8 724.4 298.3 727.4 299.3 721.4C300.2 715.4 299.7 718.4 300.8 712.4C301.8 706.5 301.3 709.5 302.4 703.5C303.4 697.5 302.9 700.5 304 694.5C305.2 688.6 304.6 691.6 305.8 685.6C307 679.6 306.4 682.6 307.7 676.7C308.9 670.7 308.3 673.7 309.6 667.7C310.9 661.8 310.3 664.8 311.7 658.8C313.1 652.9 312.4 655.9 313.8 650C315.3 644 314.6 647 316.1 641.1C317.7 635.2 316.9 638.2 318.5 632.3C320.2 626.4 319.3 629.3 321 623.5C322.8 617.6 321.9 620.5 323.7 614.7C325.5 608.9 324.6 611.8 326.4 606C328.3 600.2 327.4 603.1 329.3 597.3C331.3 591.5 330.3 594.4 332.4 588.7C334.5 582.9 333.4 585.8 335.6 580.1C337.7 574.4 336.6 577.2 338.9 571.5C341.2 565.9 340 568.7 342.4 563.1C344.7 557.4 343.5 560.2 346 554.6C348.4 549 347.2 551.8 349.7 546.2C352.3 540.6 351 543.4 353.6 537.9C356.2 532.3 354.9 535.1 357.6 529.6C360.3 524.1 358.9 526.8 361.7 521.3C364.5 515.8 363.1 518.6 365.9 513.1C368.8 507.6 367.3 510.4 370.2 504.9C373.1 499.4 371.7 502.2 374.6 496.7C377.6 491.3 376.1 494 379.1 488.6C382.1 483.2 380.6 485.9 383.7 480.5C386.8 475.1 385.2 477.8 388.4 472.5C391.5 467.1 389.9 469.8 393.1 464.5C396.4 459.2 394.7 461.8 398 456.5C401.3 451.3 399.6 453.9 403.1 448.7C406.5 443.5 404.7 446.1 408.3 441C411.8 435.9 410 438.4 413.7 433.4C417.5 428.5 415.6 430.9 419.6 426.1C423.6 421.4 421.5 423.7 425.8 419.1C430 414.5 427.8 416.8 432.3 412.3C436.7 407.9 434.5 410 439.1 405.8C443.8 401.5 441.4 403.6 446.3 399.4C451.2 395.3 448.7 397.3 453.7 393.4C458.8 389.4 456.2 391.3 461.5 387.5C466.7 383.7 464 385.5 469.4 381.9C474.9 378.3 472.1 380.1 477.7 376.7C483.3 373.3 480.4 374.9 486.2 371.9C491.9 368.8 489 370.2 494.9 367.4C500.8 364.7 497.8 366 503.9 363.5C509.9 361.1 506.9 362.2 513.1 360.1C519.2 358 516.1 359 522.4 357.1C528.7 355.3 525.6 356.2 532 354.6C538.4 353.1 535.2 353.8 541.6 352.5C548.1 351.3 544.9 351.9 551.4 350.8C558 349.8 554.7 350.3 561.3 349.5C567.9 348.7 564.6 349.1 571.2 348.5C577.8 348 574.5 348.2 581.2 347.9C587.8 347.5 584.5 347.7 591.2 347.5C597.8 347.3 594.5 347.4 601.1 347.4C607.8 347.4 604.5 347.3 611.1 347.5C617.8 347.6 614.5 347.5 621.1 347.7C627.8 347.9 624.5 347.8 631.1 348.1C637.8 348.4 634.5 348.2 641.1 348.5C647.8 348.9 644.4 348.7 651.1 349C657.7 349.4 654.4 349.2 661.1 349.5C667.7 349.8 664.4 349.7 671 350C677.7 350.2 674.4 350.1 681 350.3C687.6 350.5 684.3 350.4 690.9 350.6C697.6 350.7 694.2 350.7 700.9 350.8C707.5 350.9 704.2 350.8 710.8 350.9C717.4 350.9 714.1 350.9 720.7 350.9C727.4 350.9 724 350.9 730.7 350.8C737.3 350.8 734 350.8 740.6 350.7C747.3 350.6 743.9 350.7 750.6 350.5C757.2 350.4 753.9 350.5 760.6 350.3C767.2 350.1 763.9 350.2 770.6 350C777.2 349.7 773.9 349.9 780.6 349.6C787.2 349.3 783.9 349.5 790.6 349.1C797.2 348.8 793.9 349 800.6 348.6C807.2 348.2 803.9 348.4 810.6 347.9C817.2 347.4 813.9 347.7 820.5 347.1C827.2 346.5 823.9 346.9 830.5 346.2C837.1 345.5 833.8 345.9 840.4 345.1C847 344.4 843.7 344.8 850.3 343.9C856.9 343 853.6 343.5 860.2 342.5C866.8 341.5 863.5 342.1 870 341C876.5 339.9 873.3 340.4 879.8 339.2C886.3 338 883 338.6 889.5 337.2C895.9 335.9 892.7 336.6 899.1 335.1C905.5 333.5 902.3 334.3 908.7 332.7C915.1 331 911.9 331.9 918.2 330C924.5 328.2 921.4 329.1 927.6 327.1C933.9 325.1 930.7 326.2 936.9 324C943.1 321.8 940 323 946.2 320.6C952.3 318.3 949.2 319.5 955.3 317C961.4 314.6 958.3 315.8 964.3 313.2C970.3 310.6 967.3 311.9 973.3 309.2C979.2 306.4 976.2 307.8 982.1 304.9C987.9 302 985 303.5 990.8 300.4C996.5 297.4 993.7 298.9 999.3 295.7C1005 292.6 1002.2 294.2 1007.8 290.9C1013.4 287.5 1010.6 289.2 1016.1 285.8C1021.6 282.3 1018.9 284.1 1024.3 280.5C1029.7 277 1027 278.8 1032.3 275.1C1037.6 271.4 1035 273.3 1040.2 269.5C1045.4 265.6 1042.8 267.6 1047.9 263.7C1053 259.7 1050.5 261.7 1055.5 257.7C1060.5 253.7 1058 255.7 1062.9 251.6C1067.8 247.4 1065.4 249.5 1070.1 245.3C1074.9 241.1 1072.5 243.2 1077.2 238.9C1081.9 234.5 1079.6 236.7 1084.1 232.3C1088.6 227.9 1086.4 230.1 1090.8 225.6C1095.2 221.1 1093 223.4 1097.3 218.7C1101.6 214.1 1099.5 216.5 1103.6 211.7C1107.8 207 1105.7 209.4 1109.7 204.6C1113.7 199.8 1111.7 202.2 1115.6 197.3C1119.4 192.4 1117.5 194.9 1121.2 189.9C1124.9 184.9 1123.1 187.4 1126.6 182.3C1130.1 177.2 1128.4 179.8 1131.8 174.6C1135.1 169.4 1133.5 172 1136.6 166.7C1139.8 161.4 1138.3 164.1 1141.2 158.7C1144.2 153.3 1142.8 156 1145.6 150.5C1148.3 145 1147 147.8 1149.6 142.2C1152.2 136.5 1150.9 139.4 1153.3 133.7C1155.7 127.9 1155.6 127.9 1156.7 125"/>
<path class="c" stroke="#000000" stroke-width="8.6" d="M264 118.1H348"/>
<path class="c" stroke="#ff0000" stroke-width="8.6" d="M264 177.3H348"/>
<path class="c" stroke="#0000ff" stroke-width="8.6" d="M264 236.5H348"/>
<path class="c" stroke="#ff00ff" stroke-width="8.6" d="M264 295.7H348"/>
</g>
<text class="t" font-size="62.4" text-anchor="end" transform="translate(174.3 827.2) scale(0.9 1)">-6</text>
<text class="t" font-size="62.4" text-anchor="end" transform="translate(174.3 732) scale(0.9 1)">-4</text>
<text class="t" font-size="62.4" text-anchor="end" transform="translate(174.3 636.7) scale(0.9 1)">-2</text>
<text class="t" font-size="62.4" text-anchor="end" transform="translate(174.3 541.5) scale(0.9 1)">0</text>
<text class="t" font-size="62.4" text-anchor="end" transform="translate(174.3 446.2) scale(0.9 1)">2</text>
<text class="t" font-size="62.4" text-anchor="end" transform="translate(174.3 351) scale(0.9 1)">4</text>
<text class="t" font-size="62.4" text-anchor="end" transform="translate(174.3 255.8) scale(0.9 1)">6</text>
<text class="t" font-size="62.4" text-anchor="end" transform="translate(174.3 160.5) scale(0.9 1)">8</text>
<text class="t" font-size="62.4" text-anchor="end" transform="translate(174.3 65.3) scale(0.9 1)">10</text>
<text class="t" font-size="62.4" text-anchor="middle" transform="translate(267.7 875) scale(0.9 1)">0.0</text>
<text class="t" font-size="62.4" text-anchor="middle" transform="translate(424.4 875) scale(0.9 1)">0.2</text>
<text class="t" font-size="62.4" text-anchor="middle" transform="translate(581 875) scale(0.9 1)">0.4</text>
<text class="t" font-size="62.4" text-anchor="middle" transform="translate(737.7 875) scale(0.9 1)">0.6</text>
<text class="t" font-size="62.4" text-anchor="middle" transform="translate(894.3 875) scale(0.9 1)">0.8</text>
<text class="t" font-size="62.4" text-anchor="middle" transform="translate(1051 875) scale(0.9 1)">1.0</text>
<text class="t" font-size="64.3" text-anchor="middle" transform="translate(660 960.3) scale(0.883 1)">E/V (<tspan font-style="italic">vs</tspan>.SCE)</text>
<text class="t" font-size="62" text-anchor="middle" transform="translate(59.8 467) scale(0.95 1) rotate(-90)">I (mA)</text>
<text class="t" font-size="49" transform="translate(326.7 131.3) scale(0.88 1)">MnFe<tspan font-size="40">2</tspan>O<tspan font-size="40">4</tspan></text>
<text class="t" font-size="49" transform="translate(326.7 190.2) scale(0.88 1)">BGA</text>
<text class="t" font-size="49" transform="translate(326.7 249.2) scale(0.88 1)">MnFe<tspan font-size="40">2</tspan>O<tspan font-size="40">4</tspan>/GA</text>
<text class="t" font-size="49" transform="translate(326.7 308.6) scale(0.88 1)">MnFe<tspan font-size="40">2</tspan>O<tspan font-size="40">4</tspan>/BGA</text>
<text class="t pl" font-size="99" transform="translate(980 154) scale(0.92 1)" letter-spacing="5">(a)</text>
</g>
<g id="panel-b">
<rect class="ax" x="1344.6" y="58" width="950.7" height="752.5" stroke-width="7.4"/>
<path class="tk" stroke-width="7" d="M1381.2 810.5V796.3M1472.6 810.5V802.7M1564 810.5V796.3M1655.4 810.5V802.7M1746.8 810.5V796.3M1838.2 810.5V802.7M1929.6 810.5V796.3M2021.1 810.5V802.7M2112.5 810.5V796.3M2203.9 810.5V802.7M1344.6 747.8H1352.3M1344.6 685.1H1358.1M1344.6 622.4H1352.3M1344.6 559.7H1358.1M1344.6 497H1352.3M1344.6 434.2H1358.1M1344.6 371.5H1352.3M1344.6 308.8H1358.1M1344.6 246.1H1352.3M1344.6 183.4H1358.1M1344.6 120.7H1352.3"/>
<g clip-path="url(#clipb)">
<g fill="url(#gk)"><ellipse cx="1381.3" cy="789.4" rx="9.0" ry="9.4"/><ellipse cx="1399.1" cy="783.9" rx="9.0" ry="9.4"/><ellipse cx="1408.8" cy="776.2" rx="9.0" ry="9.4"/><ellipse cx="1421.9" cy="765.4" rx="9.0" ry="9.4"/><ellipse cx="1439.8" cy="752.6" rx="9.0" ry="9.4"/><ellipse cx="1464.4" cy="738.4" rx="9.0" ry="9.4"/><ellipse cx="1496.6" cy="724.4" rx="9.0" ry="9.4"/><ellipse cx="1536.8" cy="711" rx="9.0" ry="9.4"/><ellipse cx="1583" cy="703.3" rx="9.0" ry="9.4"/><ellipse cx="1627.2" cy="700.8" rx="9.0" ry="9.4"/><ellipse cx="1672.4" cy="705" rx="9.0" ry="9.4"/><ellipse cx="1719.1" cy="714.5" rx="9.0" ry="9.4"/><ellipse cx="1753.8" cy="724" rx="9.0" ry="9.4"/><ellipse cx="1782.8" cy="735.1" rx="9.0" ry="9.4"/><ellipse cx="1808" cy="743.8" rx="9.0" ry="9.4"/><ellipse cx="1827" cy="752" rx="9.0" ry="9.4"/><ellipse cx="1846.6" cy="761.5" rx="9.0" ry="9.4"/><ellipse cx="1862.8" cy="763" rx="9.0" ry="9.4"/><ellipse cx="1921.4" cy="762" rx="9.0" ry="9.4"/><ellipse cx="1947.6" cy="761" rx="9.0" ry="9.4"/><ellipse cx="1991.5" cy="757.6" rx="9.0" ry="9.4"/><ellipse cx="2009" cy="755.8" rx="9.0" ry="9.4"/><ellipse cx="2035.7" cy="749.4" rx="9.0" ry="9.4"/><ellipse cx="2055.5" cy="749.9" rx="9.0" ry="9.4"/><ellipse cx="2075.1" cy="745.5" rx="9.0" ry="9.4"/><ellipse cx="2107.5" cy="734.7" rx="9.0" ry="9.4"/><ellipse cx="2158.5" cy="726.7" rx="9.0" ry="9.4"/><ellipse cx="2174" cy="718.6" rx="9.0" ry="9.4"/><ellipse cx="2217.6" cy="705" rx="9.0" ry="9.4"/><ellipse cx="2289.5" cy="692.5" rx="9.0" ry="9.4"/></g>
<g fill="url(#gr)"><ellipse cx="1391" cy="797" rx="9.0" ry="9.4"/><ellipse cx="1400" cy="794" rx="9.0" ry="9.4"/><ellipse cx="1410" cy="790" rx="9.0" ry="9.4"/><ellipse cx="1422" cy="783.5" rx="9.0" ry="9.4"/><ellipse cx="1438.4" cy="776.5" rx="9.0" ry="9.4"/><ellipse cx="1459.4" cy="765.7" rx="9.0" ry="9.4"/><ellipse cx="1483.2" cy="755.4" rx="9.0" ry="9.4"/><ellipse cx="1516.4" cy="746.1" rx="9.0" ry="9.4"/><ellipse cx="1552.2" cy="742.4" rx="9.0" ry="9.4"/><ellipse cx="1585.6" cy="741" rx="9.0" ry="9.4"/><ellipse cx="1622.4" cy="745.3" rx="9.0" ry="9.4"/><ellipse cx="1655.8" cy="752.1" rx="9.0" ry="9.4"/><ellipse cx="1682.5" cy="761.7" rx="9.0" ry="9.4"/><ellipse cx="1705" cy="771.2" rx="9.0" ry="9.4"/><ellipse cx="1720.3" cy="777.8" rx="9.0" ry="9.4"/><ellipse cx="1735.3" cy="783.8" rx="9.0" ry="9.4"/><ellipse cx="1747.3" cy="788.1" rx="9.0" ry="9.4"/><ellipse cx="1759.3" cy="792.3" rx="9.0" ry="9.4"/><ellipse cx="1770.4" cy="792.3" rx="9.0" ry="9.4"/><ellipse cx="1781.5" cy="791.5" rx="9.0" ry="9.4"/><ellipse cx="1793.5" cy="790.6" rx="9.0" ry="9.4"/><ellipse cx="1807.2" cy="787.2" rx="9.0" ry="9.4"/><ellipse cx="1820" cy="784.6" rx="9.0" ry="9.4"/><ellipse cx="1852.6" cy="778.6" rx="9.0" ry="9.4"/><ellipse cx="1863.7" cy="774.4" rx="9.0" ry="9.4"/><ellipse cx="1879.8" cy="766.7" rx="9.0" ry="9.4"/><ellipse cx="1904" cy="759.5" rx="9.0" ry="9.4"/><ellipse cx="1919.3" cy="752" rx="9.0" ry="9.4"/><ellipse cx="1943" cy="747.2" rx="9.0" ry="9.4"/><ellipse cx="1948.2" cy="743.6" rx="9.0" ry="9.4"/><ellipse cx="1973.5" cy="734.3" rx="9.0" ry="9.4"/><ellipse cx="2022.2" cy="722" rx="9.0" ry="9.4"/><ellipse cx="2047.5" cy="715.8" rx="9.0" ry="9.4"/><ellipse cx="2086.2" cy="703.4" rx="9.0" ry="9.4"/><ellipse cx="2163" cy="680" rx="9.0" ry="9.4"/><ellipse cx="2193" cy="673.8" rx="9.0" ry="9.4"/><ellipse cx="2246.9" cy="636" rx="9.0" ry="9.4"/></g>
<g fill="url(#gb)"><ellipse cx="1384.2" cy="794.2" rx="9.0" ry="9.4"/><ellipse cx="1392.9" cy="797" rx="9.0" ry="9.4"/><ellipse cx="1401.1" cy="792.1" rx="9.0" ry="9.4"/><ellipse cx="1418.6" cy="781.9" rx="9.0" ry="9.4"/><ellipse cx="1447" cy="764.3" rx="9.0" ry="9.4"/><ellipse cx="1490.8" cy="748.7" rx="9.0" ry="9.4"/><ellipse cx="1545.4" cy="738.8" rx="9.0" ry="9.4"/><ellipse cx="1605.3" cy="742.7" rx="9.0" ry="9.4"/><ellipse cx="1657.5" cy="753.8" rx="9.0" ry="9.4"/><ellipse cx="1691.7" cy="772" rx="9.0" ry="9.4"/><ellipse cx="1714.8" cy="784" rx="9.0" ry="9.4"/><ellipse cx="1732.7" cy="789.8" rx="9.0" ry="9.4"/><ellipse cx="1750.8" cy="792.3" rx="9.0" ry="9.4"/><ellipse cx="1762.4" cy="782" rx="9.0" ry="9.4"/><ellipse cx="1781.3" cy="774.2" rx="9.0" ry="9.4"/><ellipse cx="1799.5" cy="751.7" rx="9.0" ry="9.4"/><ellipse cx="1831.2" cy="703.3" rx="9.0" ry="9.4"/><ellipse cx="1899.3" cy="647.2" rx="9.0" ry="9.4"/><ellipse cx="1968.2" cy="587.6" rx="9.0" ry="9.4"/><ellipse cx="2078.7" cy="521.8" rx="9.0" ry="9.4"/><ellipse cx="2219.3" cy="461.4" rx="9.0" ry="9.4"/></g>
<g fill="url(#gm)"><ellipse cx="1386.9" cy="806.9" rx="9.0" ry="9.4"/><ellipse cx="1391.8" cy="808" rx="9.0" ry="9.4"/><ellipse cx="1396.6" cy="808.5" rx="9.0" ry="9.4"/><ellipse cx="1402.1" cy="806.9" rx="9.0" ry="9.4"/><ellipse cx="1411" cy="801.8" rx="9.0" ry="9.4"/><ellipse cx="1420.9" cy="795.5" rx="9.0" ry="9.4"/><ellipse cx="1435.3" cy="787.3" rx="9.0" ry="9.4"/><ellipse cx="1453" cy="778.6" rx="9.0" ry="9.4"/><ellipse cx="1477.6" cy="770.7" rx="9.0" ry="9.4"/><ellipse cx="1505.7" cy="763.8" rx="9.0" ry="9.4"/><ellipse cx="1538.2" cy="760.7" rx="9.0" ry="9.4"/><ellipse cx="1569" cy="761.5" rx="9.0" ry="9.4"/><ellipse cx="1599.3" cy="765.5" rx="9.0" ry="9.4"/><ellipse cx="1628.9" cy="774.4" rx="9.0" ry="9.4"/><ellipse cx="1648.1" cy="783.4" rx="9.0" ry="9.4"/><ellipse cx="1663.5" cy="790.6" rx="9.0" ry="9.4"/><ellipse cx="1675.2" cy="798.4" rx="9.0" ry="9.4"/><ellipse cx="1684.6" cy="802.8" rx="9.0" ry="9.4"/><ellipse cx="1691.7" cy="804.6" rx="9.0" ry="9.4"/><ellipse cx="1696.6" cy="805.5" rx="9.0" ry="9.4"/><ellipse cx="1703.7" cy="803.3" rx="9.0" ry="9.4"/><ellipse cx="1709.9" cy="799.7" rx="9.0" ry="9.4"/><ellipse cx="1716.6" cy="791.7" rx="9.0" ry="9.4"/><ellipse cx="1725" cy="782.4" rx="9.0" ry="9.4"/><ellipse cx="1734.5" cy="770.1" rx="9.0" ry="9.4"/><ellipse cx="1744.2" cy="753.8" rx="9.0" ry="9.4"/><ellipse cx="1755.7" cy="733.3" rx="9.0" ry="9.4"/><ellipse cx="1787" cy="701.2" rx="9.0" ry="9.4"/><ellipse cx="1808.9" cy="668" rx="9.0" ry="9.4"/><ellipse cx="1841.5" cy="637" rx="9.0" ry="9.4"/><ellipse cx="1867.3" cy="607.4" rx="9.0" ry="9.4"/><ellipse cx="1912.2" cy="555.6" rx="9.0" ry="9.4"/><ellipse cx="1956.7" cy="473.4" rx="9.0" ry="9.4"/><ellipse cx="2018.3" cy="402" rx="9.0" ry="9.4"/><ellipse cx="2091.1" cy="351.4" rx="9.0" ry="9.4"/><ellipse cx="2294.6" cy="108.6" rx="9.0" ry="9.4"/></g>
</g>
<text class="t" font-size="62.2" text-anchor="end" transform="translate(1329 827.8) scale(0.912 1)">0</text>
<text class="t" font-size="62.2" text-anchor="end" transform="translate(1329 702.4) scale(0.912 1)">1</text>
<text class="t" font-size="62.2" text-anchor="end" transform="translate(1329 577) scale(0.912 1)">2</text>
<text class="t" font-size="62.2" text-anchor="end" transform="translate(1329 451.6) scale(0.912 1)">3</text>
<text class="t" font-size="62.2" text-anchor="end" transform="translate(1329 326.1) scale(0.912 1)">4</text>
<text class="t" font-size="62.2" text-anchor="end" transform="translate(1329 200.7) scale(0.912 1)">5</text>
<text class="t" font-size="62.2" text-anchor="end" transform="translate(1329 75.3) scale(0.912 1)">6</text>
<text class="t" font-size="62.2" text-anchor="middle" transform="translate(1381.2 875.2) scale(0.912 1)">0</text>
<text class="t" font-size="62.2" text-anchor="middle" transform="translate(1564 875.2) scale(0.912 1)">1</text>
<text class="t" font-size="62.2" text-anchor="middle" transform="translate(1746.8 875.2) scale(0.912 1)">2</text>
<text class="t" font-size="62.2" text-anchor="middle" transform="translate(1929.6 875.2) scale(0.912 1)">3</text>
<text class="t" font-size="62.2" text-anchor="middle" transform="translate(2112.5 875.2) scale(0.912 1)">4</text>
<text class="t" font-size="62.2" text-anchor="middle" transform="translate(2295.3 875.2) scale(0.912 1)">5</text>
<text class="t" font-size="61.4" text-anchor="middle" transform="translate(1820.2 973.6) scale(0.942 1)">Z' (ohm)</text>
<text class="t" font-size="62" text-anchor="middle" transform="translate(1270.6 472) scale(0.93 1) rotate(-90)">-Z'' (ohm)</text>
<ellipse cx="1489" cy="175.5" rx="9.0" ry="9.4" fill="url(#gk)"/>
<text class="t" font-size="49" transform="translate(1535.7 187.9) scale(0.875 1)">MnFe<tspan font-size="40">2</tspan>O<tspan font-size="40">4</tspan></text>
<ellipse cx="1489" cy="233.5" rx="9.0" ry="9.4" fill="url(#gr)"/>
<text class="t" font-size="49" transform="translate(1535.7 245.9) scale(0.875 1)">BGA</text>
<ellipse cx="1489" cy="291.5" rx="9.0" ry="9.4" fill="url(#gb)"/>
<text class="t" font-size="49" transform="translate(1535.7 303.9) scale(0.875 1)">MnFe<tspan font-size="40">2</tspan>O<tspan font-size="40">4</tspan>/GA</text>
<ellipse cx="1489" cy="349.5" rx="9.0" ry="9.4" fill="url(#gm)"/>
<text class="t" font-size="49" transform="translate(1535.7 361.9) scale(0.875 1)">MnFe<tspan font-size="40">2</tspan>O<tspan font-size="40">4</tspan>/BGA</text>
<text class="t pl" font-size="96.4" transform="translate(2145.4 170.5) scale(0.976 1)" letter-spacing="2">(b)</text>
</g>
</g>
</svg>
</body></html>
